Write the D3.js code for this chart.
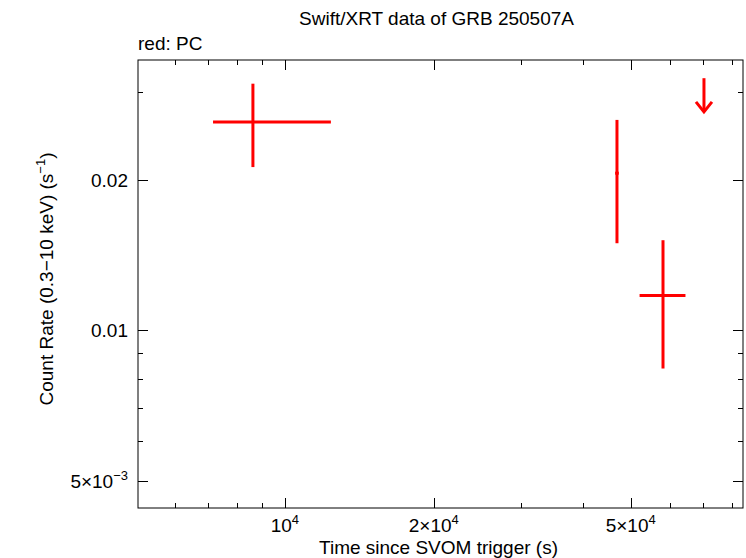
<!DOCTYPE html>
<html><head><meta charset="utf-8">
<script src="https://cdn.jsdelivr.net/npm/d3@7"></script>
<style>body{margin:0;background:#fff}text{font-family:"Liberation Sans",Arial,sans-serif;font-size:19px}</style>
</head><body><div id="vis"></div>
<script>
// points: time, time low, time high, rate, rate low, rate high
let times = [8620, 46900, 58100];
let timeLo = [7160, 46500, 52100];
let timeHi = [12390, 47300, 64500];
let rates = [0.02615, 0.02065, 0.01175];
let rateLo = [0.02124, 0.01495, 0.00839];
let rateHi = [0.0312, 0.0264, 0.01516];
// upper limit
let ulTime = [70300];
let ulTop = [0.032];
let ulTip = [0.0274];

let xTicks = [1e4, 2e4, 5e4];
let xTickLabels = ['10', '2×10', '5×10'];
let yTicks = [0.02, 0.01, 0.005];
let yTickLabels = ['0.02', '0.01', '5×10'];

let margin = {top: 60, left: 138, right: 3, bottom: 50},
    W = 746, H = 558,
    width = W - margin.left - margin.right,
    height = H - margin.top - margin.bottom;

let svg = d3.select('#vis').append('svg').attr('width', W).attr('height', H);
let g = svg.append('g').attr('transform', 'translate(' + margin.left + ',' + margin.top + ')');

let x = d3.scaleLog().domain([5050, 84300]).range([0, width]);
let y = d3.scaleLog().domain([0.00441, 0.0348]).range([height, 0]);

// minor ticks
let xMinor = [], yMinor = [];
[1e3, 1e4].forEach(function(d) { for (let k = 1; k < 10; k++) { let v = d * k; if (v > 5050 && v < 84300) xMinor.push(v); } });
[1e-3, 1e-2].forEach(function(d) { for (let k = 1; k < 10; k++) { let v = d * k; if (v > 0.00441 && v < 0.0348) yMinor.push(v); } });

function tickLen(v, majors) { return majors.indexOf(v) >= 0 ? 10 : 5; }
let tickG = g.append('g').attr('stroke', '#000').attr('stroke-width', 1);
xMinor.forEach(function(v) {
    let L = tickLen(v, xTicks), px = Math.round(x(v)) + 0.5;
    tickG.append('line').attr('x1', px).attr('x2', px).attr('y1', height).attr('y2', height - L);
    tickG.append('line').attr('x1', px).attr('x2', px).attr('y1', 0).attr('y2', L);
});
yMinor.forEach(function(v) {
    let L = tickLen(v, yTicks), py = Math.round(y(v)) + 0.5;
    tickG.append('line').attr('y1', py).attr('y2', py).attr('x1', 0).attr('x2', L);
    tickG.append('line').attr('y1', py).attr('y2', py).attr('x1', width).attr('x2', width - L);
});
g.append('rect').attr('width', width).attr('height', height).attr('fill', 'none').attr('stroke', '#000');

// tick labels
xTicks.forEach(function(v, i) {
    let t = g.append('text').attr('x', x(v)).attr('y', height + 24).attr('text-anchor', 'middle');
    t.append('tspan').text(xTickLabels[i]);
    t.append('tspan').attr('dy', -8).attr('font-size', 13).text('4');
});
yTicks.forEach(function(v, i) {
    let t = g.append('text').attr('x', -10).attr('y', y(v) + 7).attr('text-anchor', 'end');
    t.append('tspan').text(yTickLabels[i]);
    if (i == 2) t.append('tspan').attr('dy', -8).attr('font-size', 13).text('−3');
});

// data
let red = '#ff0000';
let pts = g.append('g').attr('stroke', red).attr('stroke-width', 3);
times.forEach(function(t, i) {
    pts.append('line').attr('x1', x(timeLo[i])).attr('x2', x(timeHi[i])).attr('y1', y(rates[i])).attr('y2', y(rates[i]));
    pts.append('line').attr('x1', x(t)).attr('x2', x(t)).attr('y1', y(rateLo[i])).attr('y2', y(rateHi[i]));
});
ulTime.forEach(function(t, i) {
    let px = x(t), py = y(ulTip[i]);
    pts.append('line').attr('x1', px).attr('x2', px).attr('y1', y(ulTop[i])).attr('y2', py);
    pts.append('path').attr('fill', 'none').attr('d', 'M' + (px - 8) + ',' + (py - 10) + 'L' + px + ',' + py + 'L' + (px + 8) + ',' + (py - 10));
});

// titles
svg.append('text').attr('x', margin.left + width / 2 - 4).attr('y', 25).attr('text-anchor', 'middle').text('Swift/XRT data of GRB 250507A');
svg.append('text').attr('x', 138).attr('y', 50).text('red: PC');
svg.append('text').attr('x', margin.left + width / 2 - 2).attr('y', 554).attr('text-anchor', 'middle').attr('font-size', 20).text('Time since SVOM trigger (s)');
let yl = svg.append('text').attr('transform', 'translate(53,' + (margin.top + height / 2 - 5) + ') rotate(-90)').attr('text-anchor', 'middle').attr('font-size', 20);
yl.append('tspan').text('Count Rate (0.3−10 keV) (s');
yl.append('tspan').attr('dy', -8).attr('font-size', 13).text('−1');
yl.append('tspan').attr('dy', 8).text(')');
</script></body></html>
